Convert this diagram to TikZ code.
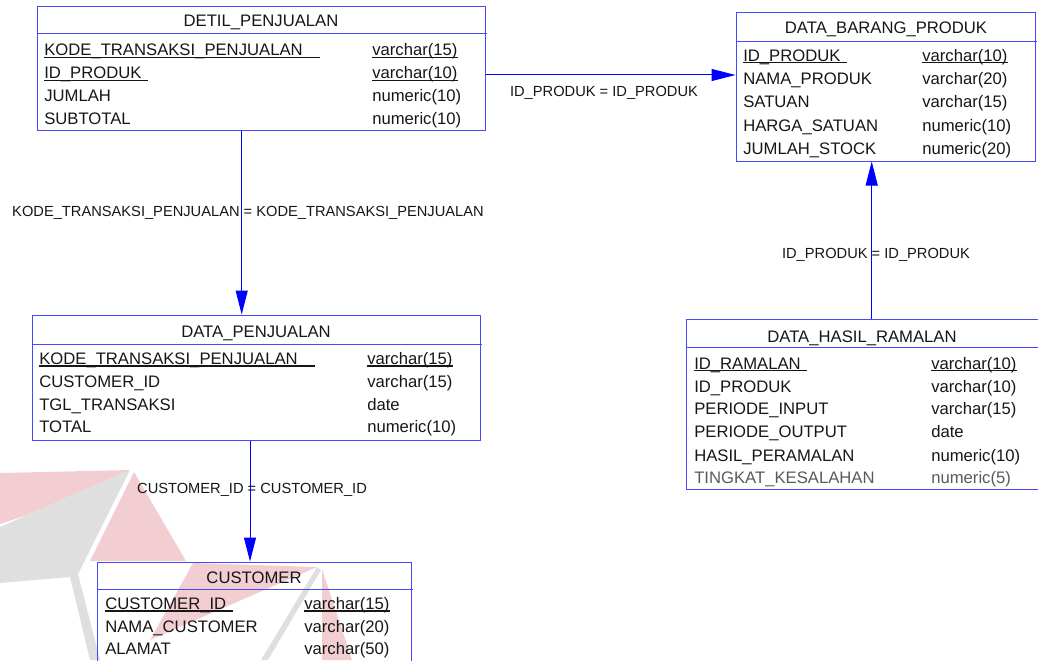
\documentclass[tikz,border=0pt]{standalone}
\usepackage{fontspec}
\setmainfont{Liberation Sans}
\usetikzlibrary{arrows.meta,fit}

\definecolor{frameblue}{RGB}{72,72,255}
\definecolor{linkblue}{RGB}{0,0,255}
\definecolor{wmred}{RGB}{242,206,210}
\definecolor{wmgray}{RGB}{223,223,223}
\definecolor{ink}{RGB}{22,22,22}
\definecolor{inkgray}{RGB}{90,90,90}

% one attribute row: node prefix, name x, type x, row centre y, name, type
\newcommand{\erdrow}[6]{%
  \node[fld] (#1n) at (#2,#4+6) {#5};
  \node[fld] (#1t) at (#3,#4+6) {#6};
}
% key attribute underlines: node prefix, row centre y, name x from, name x to
\newcommand{\erdkey}[4]{%
  \draw[keyline] (#3,#2+7.5) -- (#4,#2+7.5);
  \draw[keyline] (#1t.west |- 0,#2+7.5) -- (#1t.east |- 0,#2+7.5);
}

\begin{document}
\begin{tikzpicture}[x=0.75pt,y=-0.75pt,
  tablebox/.style={draw=frameblue,line width=0.75pt,inner sep=0pt},
  headrule/.style={draw=frameblue,line width=0.75pt},
  ttl/.style={font=\fontsize{12.5}{14}\selectfont,text=ink,inner sep=0pt,anchor=base},
  fld/.style={font=\fontsize{12.5}{14}\selectfont,text=ink,inner sep=0pt,anchor=base west},
  keyline/.style={line width=1pt,draw=ink},
  rel/.style={draw=linkblue,line width=0.75pt,-{Triangle[length=18pt,width=9pt]}},
  rellabel/.style={font=\fontsize{11}{13}\selectfont,text=ink,inner sep=0pt}]
\useasboundingbox (0,0) rectangle (1038,660);

% faint logo in the background
\fill[wmred] (0,473) -- (130,470) -- (27,515) -- (0,524) -- cycle;
\fill[wmgray] (130,470) -- (27,515) -- (0,527) -- (0,583) -- (70,577)
  -- (90,660) -- (100,660) -- (78,574) -- cycle;
\fill[wmred] (134,472) -- (186,561) -- (90,561) -- cycle;
\fill[wmred] (193,563) -- (317,567) -- (150,640) -- cycle;
\fill[wmgray] (317,567) -- (321,570) -- (268,660) -- (261,660) -- cycle;
\fill[wmred] (322,569) -- (352,660) -- (322,660) -- cycle;

% DETIL_PENJUALAN
\node[tablebox,fit={(37,7)(485,130)}] (detil) {};
\draw[headrule] (37,34) -- (487,34);
\node[ttl] (detilT) at (261,21+6) {DETIL\_PENJUALAN};
\erdrow{dp1}{44}{372}{50}{KODE\_TRANSAKSI\_PENJUALAN}{varchar(15)}
\erdrow{dp2}{44}{372}{73}{ID\_PRODUK}{varchar(10)}
\erdrow{dp3}{44}{372}{96}{JUMLAH}{numeric(10)}
\erdrow{dp4}{44}{372}{118}{SUBTOTAL}{numeric(10)}
\erdkey{dp1}{50}{44}{320}
\erdkey{dp2}{73}{44}{148}

% DATA_BARANG_PRODUK
\node[tablebox,fit={(736,13)(1035,161)}] (barang) {};
\draw[headrule] (736,41.5) -- (1037,41.5);
\node[ttl] (barangT) at (886,28+6) {DATA\_BARANG\_PRODUK};
\erdrow{bp1}{743}{922}{55}{ID\_PRODUK}{varchar(10)}
\erdrow{bp2}{743}{922}{78.5}{NAMA\_PRODUK}{varchar(20)}
\erdrow{bp3}{743}{922}{101.5}{SATUAN}{varchar(15)}
\erdrow{bp4}{743}{922}{125}{HARGA\_SATUAN}{numeric(10)}
\erdrow{bp5}{743}{922}{148}{JUMLAH\_STOCK}{numeric(20)}
\erdkey{bp1}{55}{743}{847}

% DATA_PENJUALAN
\node[tablebox,fit={(32,315)(480,440)}] (penjualan) {};
\draw[headrule] (32,344) -- (482,344);
\node[ttl] (penjualanT) at (256,331.5+6) {DATA\_PENJUALAN};
\erdrow{pj1}{39}{367}{358.5}{KODE\_TRANSAKSI\_PENJUALAN}{varchar(15)}
\erdrow{pj2}{39}{367}{381.5}{CUSTOMER\_ID}{varchar(15)}
\erdrow{pj3}{39}{367}{404}{TGL\_TRANSAKSI}{date}
\erdrow{pj4}{39}{367}{426.5}{TOTAL}{numeric(10)}
\erdkey{pj1}{358.5}{39}{315}

% CUSTOMER
\node[tablebox,fit={(97,562)(411,675)}] (customer) {};
\draw[headrule] (97,589) -- (413,589);
\node[ttl] (customerT) at (254,577+6) {CUSTOMER};
\erdrow{cu1}{105}{304}{603.5}{CUSTOMER\_ID}{varchar(15)}
\erdrow{cu2}{105}{304}{626}{NAMA\_CUSTOMER}{varchar(20)}
\erdrow{cu3}{105}{304}{648.5}{ALAMAT}{varchar(50)}
\erdkey{cu1}{603.5}{105}{233}

% DATA_HASIL_RAMALAN
\node[tablebox,fit={(686,319)(1041,489)}] (ramalan) {};
\draw[headrule] (686,347) -- (1041,347);
\node[ttl] (ramalanT) at (862,336.5+6) {DATA\_HASIL\_RAMALAN};
\erdrow{hr1}{694}{931}{363}{ID\_RAMALAN}{varchar(10)}
\erdrow{hr2}{694}{931}{386}{ID\_PRODUK}{varchar(10)}
\erdrow{hr3}{694}{931}{408.5}{PERIODE\_INPUT}{varchar(15)}
\erdrow{hr4}{694}{931}{431.5}{PERIODE\_OUTPUT}{date}
\erdrow{hr5}{694}{931}{455}{HASIL\_PERAMALAN}{numeric(10)}
\node[fld,text=inkgray] (hr6n) at (694,477.5+6) {TINGKAT\_KESALAHAN};
\node[fld,text=inkgray] (hr6t) at (931,477.5+6) {numeric(5)};
\erdkey{hr1}{363}{694}{807}

% relationships
\draw[rel] (detil.east |- 0,75) -- (barang.west |- 0,75);
\draw[rel] (detil.south -| 241.7,0) -- (penjualan.north -| 241.7,0);
\draw[rel] (penjualan.south -| 250,0) -- (customer.north -| 250,0);
\draw[rel] (ramalan.north -| 871.7,0) -- (barang.south -| 871.7,0);

\node[rellabel] (l1) at (604,93) {ID\_PRODUK = ID\_PRODUK};
\node[rellabel] (l2) at (248,213) {KODE\_TRANSAKSI\_PENJUALAN = KODE\_TRANSAKSI\_PENJUALAN};
\node[rellabel] (l3) at (252,490) {CUSTOMER\_ID = CUSTOMER\_ID};
\node[rellabel] (l4) at (876,255) {ID\_PRODUK = ID\_PRODUK};
\end{tikzpicture}
\end{document}
